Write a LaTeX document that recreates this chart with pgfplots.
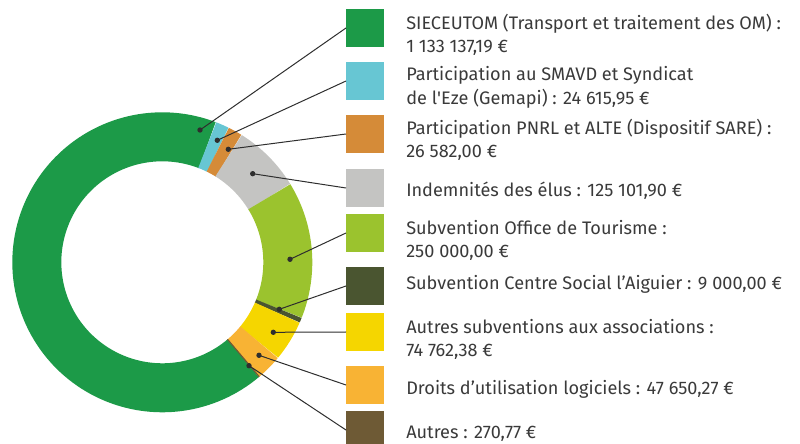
\documentclass[border=0pt]{standalone}
\usepackage{pgfplots}
\pgfplotsset{compat=1.18}
\usepackage{fontspec}
\setmainfont{Fira Sans}
\definecolor{cA}{HTML}{1C9A48}
\definecolor{cB}{HTML}{67C6D3}
\definecolor{cC}{HTML}{D58B38}
\definecolor{cD}{HTML}{C4C4C2}
\definecolor{cE}{HTML}{9BC32E}
\definecolor{cF}{HTML}{4A5530}
\definecolor{cG}{HTML}{F5D600}
\definecolor{cH}{HTML}{F8B334}
\definecolor{cI}{HTML}{6E5A35}
\definecolor{txt}{HTML}{3A3A3A}
\definecolor{lead}{HTML}{2E2E2E}
% values (EUR)
\def\vA{1133137.19}
\def\vB{24615.95}
\def\vC{26582.00}
\def\vD{125101.90}
\def\vE{250000.00}
\def\vF{9000.00}
\def\vG{74762.38}
\def\vH{47650.27}
\def\vI{270.77}
\edef\tot{\fpeval{\vA+\vB+\vC+\vD+\vE+\vF+\vG+\vH+\vI}}
\edef\aB{69}
\edef\aC{\fpeval{round(\aB-360*\vB/\tot,4)}}
\edef\aD{\fpeval{round(\aC-360*\vC/\tot,4)}}
\edef\aE{\fpeval{round(\aD-360*\vD/\tot,4)}}
\edef\aF{\fpeval{round(\aE-360*\vE/\tot,4)}}
\edef\aG{\fpeval{round(\aF-360*\vF/\tot,4)}}
\edef\aH{\fpeval{round(\aG-360*\vG/\tot,4)}}
\edef\aI{\fpeval{round(\aH-360*\vH/\tot,4)}}
\edef\aJ{\fpeval{round(\aI-360*\vI/\tot,4)}}
\edef\aK{\fpeval{round(\aJ-360*\vA/\tot,4)}}
\edef\aImid{\fpeval{round((\aI+\aJ)/2,4)}}
\newcommand\seg[4]{% color, from, to, samples
  \addplot[draw=#1, line width=36.75pt, domain=#3:#2, samples=#4, variable=\t]
    ({162.3+125.5*cos(\t)},{180.7+125.5*sin(\t)});}
\newcommand\lbl[3]{\node[anchor=base west, inner sep=0pt, text=txt, font=\fontsize{13.6pt}{16pt}\selectfont] at (axis cs:#1,#2) {#3};}
\begin{document}
\begin{tikzpicture}
\begin{axis}[x=0.75pt, y=0.75pt, xmin=0, xmax=800, ymin=0, ymax=443,
  hide axis, clip=false, line join=round]
% donut
\seg{cA}{\aK}{\aJ}{120}
\seg{cB}{\aC}{\aB}{6}
\seg{cC}{\aD}{\aC}{6}
\seg{cD}{\aE}{\aD}{20}
\seg{cE}{\aF}{\aE}{40}
\seg{cF}{\aG}{\aF}{4}
\seg{cG}{\aH}{\aG}{12}
\seg{cH}{\aI}{\aH}{8}
\seg{cI}{\aJ}{\aI}{2}
\addplot[draw=cI, line width=0.9pt, domain=101:150, samples=2, variable=\r]
  ({162.3+\r*cos(\aImid)},{180.7+\r*sin(\aImid)});
% legend boxes
\addplot[fill=cA, draw=none] coordinates {(346,396)(384,396)(384,434)(346,434)} -- cycle;
\addplot[fill=cB, draw=none] coordinates {(346,343)(384,343)(384,381.3)(346,381.3)} -- cycle;
\addplot[fill=cC, draw=none] coordinates {(346,290.3)(384,290.3)(384,328)(346,328)} -- cycle;
\addplot[fill=cD, draw=none] coordinates {(346,236.3)(384,236.3)(384,274)(346,274)} -- cycle;
\addplot[fill=cE, draw=none] coordinates {(346,191.3)(384,191.3)(384,229)(346,229)} -- cycle;
\addplot[fill=cF, draw=none] coordinates {(346,138)(384,138)(384,175.7)(346,175.7)} -- cycle;
\addplot[fill=cG, draw=none] coordinates {(346,92)(384,92)(384,129.7)(346,129.7)} -- cycle;
\addplot[fill=cH, draw=none] coordinates {(346,39.3)(384,39.3)(384,77)(346,77)} -- cycle;
\addplot[fill=cI, draw=none] coordinates {(346,-6)(384,-6)(384,32)(346,32)} -- cycle;
% leader lines
\pgfplotsset{every axis plot/.append style={}}
\addplot[lead, line width=0.75pt, mark=*, mark size=1.6pt, mark indices={1}] coordinates {(200,313)(346,415)};
\addplot[lead, line width=0.75pt, mark=*, mark size=1.6pt, mark indices={1}] coordinates {(217.3,302.7)(346,362)};
\addplot[lead, line width=0.75pt, mark=*, mark size=1.6pt, mark indices={1}] coordinates {(228.3,293.7)(346,309)};
\addplot[lead, line width=0.75pt, mark=*, mark size=1.6pt, mark indices={1}] coordinates {(252.7,269.3)(346,255)};
\addplot[lead, line width=0.75pt, mark=*, mark size=1.6pt, mark indices={1}] coordinates {(290,183.7)(346,210)};
\addplot[lead, line width=0.75pt, mark=*, mark size=1.6pt, mark indices={1}] coordinates {(279.3,133.7)(346,157)};
\addplot[lead, line width=0.75pt, mark=*, mark size=1.6pt, mark indices={1}] coordinates {(273.3,110.7)(346,111)};
\addplot[lead, line width=0.75pt, mark=*, mark size=1.6pt, mark indices={1}] coordinates {(259,87.7)(346,58)};
\addplot[lead, line width=0.75pt, mark=*, mark size=1.6pt, mark indices={1}] coordinates {(249,77.3)(346,13)};
% texts
\lbl{406}{413.7}{SIECEUTOM (Transport et traitement des OM) :}
\lbl{406}{390.7}{1 133 137,19 €}
\lbl{406}{362}{Participation au SMAVD et Syndicat}
\lbl{406}{338.5}{de l\textquotesingle Eze (Gemapi) : 24 615,95 €}
\lbl{406}{308}{Participation PNRL et ALTE (Dispositif SARE) :}
\lbl{406}{285}{26 582,00 €}
\lbl{406}{246.5}{Indemnités des élus : 125 101,90 €}
\lbl{406}{208}{Subvention Office de Tourisme :}
\lbl{406}{185.3}{250 000,00 €}
\lbl{406}{153}{Subvention Centre Social l’Aiguier : 9 000,00 €}
\lbl{406}{109.5}{Autres subventions aux associations :}
\lbl{406}{86.7}{74 762,38 €}
\lbl{406}{48.7}{Droits d’utilisation logiciels : 47 650,27 €}
\lbl{406}{4.5}{Autres : 270,77 €}
\end{axis}
\pgfresetboundingbox
\path (current axis.south west) rectangle (current axis.north east);
\end{tikzpicture}
\end{document}
